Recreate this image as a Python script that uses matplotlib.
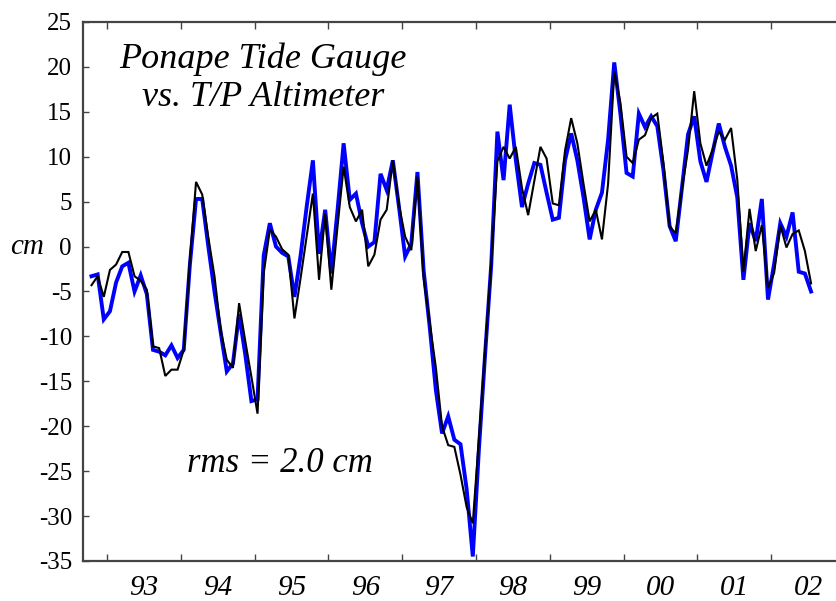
"""
Ponape tide gauge vs. T/P altimeter sea level anomalies, monthly 1992-2002.
"""

import numpy as np
import matplotlib
import matplotlib.pyplot as plt
from matplotlib.ticker import FixedLocator, NullFormatter, FixedFormatter

matplotlib.use("Agg")
plt.rcParams["axes.unicode_minus"] = False
plt.rcParams["font.family"] = ["Liberation Serif", "DejaVu Serif"]

# monthly series, first month Oct 1992 (decimal year of mid-month)
start_year = 1992.79
n_months = 118

# tide gauge (cm)
gauge = [
    -4.3, -3.3, -5.6, -2.6, -2.0, -0.6, -0.6, -3.3, -3.8, -4.8,
    -11.1, -11.3, -14.4, -13.7, -13.7, -11.5, -1.5, 7.2, 5.8, 1.0,
    -3.3, -9.3, -12.6, -13.5, -6.3, -10.5, -14.5, -18.6, -3.0, 1.9,
    1.1, -0.3, -0.9, -8.0, -3.5, 1.2, 5.9, -3.7, 3.7, -4.8,
    2.2, 8.9, 4.4, 2.8, 4.1, -2.2, -0.9, 3.0, 4.1, 9.6,
    4.6, 1.1, -0.4, 7.8, -3.5, -8.5, -13.5, -20.0, -22.1, -22.3,
    -25.4, -29.0, -30.8, -21.3, -11.5, -1.8, 9.5, 11.1, 9.8, 11.1,
    6.5, 3.5, 7.3, 11.1, 9.8, 4.8, 4.6, 10.7, 14.3, 11.5,
    7.0, 2.8, 4.1, 0.8, 7.0, 19.5, 16.0, 10.0, 9.3, 11.9,
    12.4, 14.3, 14.8, 9.3, 2.2, 1.5, 6.4, 10.8, 17.3, 11.5,
    9.0, 10.8, 12.8, 11.9, 13.2, 7.5, -2.8, 4.2, -0.5, 2.4,
    -4.6, -2.9, 2.4, -0.1, 1.4, 1.8, -0.5, -4.1,
]

# altimeter (cm)
altimeter = [
    -3.3, -3.1, -8.1, -7.2, -4.0, -2.2, -1.8, -5.0, -3.2, -5.3,
    -11.5, -11.7, -12.1, -11.0, -12.4, -11.5, -2.0, 5.3, 5.3, 0.0,
    -5.0, -9.5, -13.9, -13.0, -7.5, -12.0, -17.2, -17.0, -1.0, 2.6,
    0.0, -0.7, -1.1, -5.6, -1.0, 4.5, 9.6, -0.8, 4.1, -3.0,
    4.0, 11.5, 5.2, 5.9, 2.6, 0.0, 0.5, 8.1, 6.3, 9.6,
    4.4, -1.1, 0.3, 8.3, -2.6, -9.0, -16.0, -20.8, -18.9, -21.5,
    -22.0, -27.0, -34.5, -22.5, -12.0, -2.0, 12.8, 7.4, 15.8, 9.6,
    4.4, 7.0, 9.3, 9.1, 6.0, 3.0, 3.2, 9.6, 12.6, 9.6,
    5.5, 0.8, 4.1, 6.0, 11.9, 20.5, 14.8, 8.2, 7.8, 14.8,
    13.3, 14.5, 13.4, 8.5, 2.3, 0.6, 6.5, 12.5, 14.5, 9.5,
    7.2, 10.5, 13.7, 11.1, 9.0, 5.5, -3.7, 2.6, 0.6, 5.3,
    -5.9, -1.9, 2.6, 1.1, 3.8, -2.8, -3.0, -5.0,
]

years = list(range(1993, 2003))
year_labels = ["93", "94", "95", "96", "97", "98", "99", "00", "01", "02"]
y_ticks = list(range(-35, 30, 5))

t = start_year + np.arange(n_months) / 12.0

fig = plt.figure(figsize=(8.37, 6.01), dpi=100)
ax = fig.add_axes([83 / 837, 1 - 561 / 601, 762 / 837, 539 / 601])

ax.plot(t, altimeter, color="#0000ff", linewidth=2.8, zorder=2,
        solid_joinstyle="miter")
ax.plot(t, gauge, color="black", linewidth=1.5, zorder=3,
        solid_joinstyle="miter")

ax.set_xlim(1992.675, 2003.0)
ax.set_ylim(-35, 25)

for side in ax.spines.values():
    side.set_color("#444444")
    side.set_linewidth(1.6)

# year boundaries as ticks, year names centred between them
ax.xaxis.set_major_locator(FixedLocator(years))
ax.xaxis.set_major_formatter(NullFormatter())
ax.xaxis.set_minor_locator(FixedLocator([y + 0.5 for y in years]))
ax.xaxis.set_minor_formatter(FixedFormatter(year_labels))
ax.tick_params(axis="x", which="major", direction="in", top=True,
               length=5, width=1.0, color="#444444")
ax.tick_params(axis="x", which="minor", length=0, pad=10,
               labelsize=21)
for lbl in ax.get_xticklabels(minor=True):
    lbl.set_fontstyle("italic")

ax.set_yticks(y_ticks)
ax.tick_params(axis="y", direction="in", length=4, width=1.0,
               color="#444444", labelsize=18, pad=8)

ax.text(263 / 837, 1 - 78 / 601, "Ponape Tide Gauge\nvs. T/P Altimeter",
        transform=fig.transFigure, ha="center", va="center",
        fontsize=26, fontstyle="italic", linespacing=1.2)
ax.text(280 / 837, 1 - 463 / 601, "rms = 2.0 cm",
        transform=fig.transFigure, ha="center", va="center",
        fontsize=25, fontstyle="italic")
ax.text(27 / 837, 1 - 247 / 601, "cm",
        transform=fig.transFigure, ha="center", va="center",
        fontsize=21, fontstyle="italic")

plt.savefig("out.png", dpi=100)
plt.close()
